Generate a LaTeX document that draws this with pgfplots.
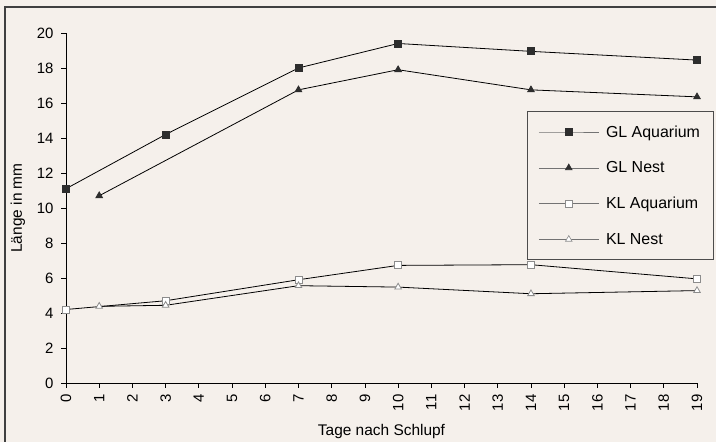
\documentclass[border=0pt]{standalone}
\usepackage{pgfplots}
\pgfplotsset{compat=1.18}
\usepackage{fontspec}
\setmainfont{Liberation Sans}
\definecolor{bg}{RGB}{245,240,235}
\definecolor{mk}{RGB}{45,45,45}
\begin{document}
\begin{tikzpicture}[x=1bp,y=1bp]
\fill[bg] (0,0) rectangle (716,442);
\useasboundingbox (0,0) rectangle (716,442);
\draw[black!75, line width=1.2bp] (5,0) -- (5,435) -- (716,435);
\begin{axis}[
  at={(66bp,59bp)}, anchor=south west,
  scale only axis, width=631bp, height=350bp,
  xmin=0, xmax=19, ymin=0, ymax=20,
  axis x line*=bottom, axis y line*=left,
  axis line style={-, black, line width=0.9bp},
  xtick={0,...,19}, ytick={0,2,...,20},
  tick align=outside, major tick length=5bp,
  tick style={black, line width=0.8bp},
  /pgf/number format/assume math mode=true,
  tick label style={font=\fontsize{15}{15}\selectfont},
  x tick label style={rotate=90, anchor=east},
  xticklabel shift=3bp,
  yticklabel shift=4bp,
  xlabel={Tage nach Schlupf},
  ylabel={Länge in mm},
  label style={font=\fontsize{15.5}{16}\selectfont},
  xlabel style={yshift=-6bp},
  ylabel style={yshift=5bp},
  legend image code/.code={\draw[#1, mark repeat=2, mark phase=2] plot coordinates {(0bp,0bp) (30bp,0bp) (60bp,0bp)};},
  legend style={at={(axis description cs:0.7306,0.777)}, anchor=north west,
    draw=black!70, line width=0.9bp, fill=bg,
    font=\fontsize{16}{17}\selectfont,
    row sep=19bp, inner xsep=11bp, inner ysep=12bp,
    /tikz/every odd column/.append style={column sep=5bp},
    /tikz/every even column/.append style={column sep=0bp}},
  legend cell align=left,
]
\addplot[black, line width=0.8bp, mark=square*, mark size=3.5bp, mark options={fill=mk, draw=mk}, forget plot]
  coordinates {(0,11.1) (3,14.2) (7,18.0) (10,19.4) (14,18.95) (19,18.45)};
\addplot[black, line width=0.8bp, mark=triangle*, mark size=3.8bp, mark options={fill=mk, draw=mk}, forget plot]
  coordinates {(1,10.7) (7,16.75) (10,17.9) (14,16.75) (19,16.35)};
\addplot[black, line width=0.8bp, mark=square*, mark size=3.5bp, mark options={fill=white, draw=black!45}, forget plot]
  coordinates {(0,4.2) (3,4.7) (7,5.9) (10,6.72) (14,6.76) (19,5.95)};
\addplot[black, line width=0.8bp, mark=triangle*, mark size=3.8bp, mark options={fill=white, draw=black!45}, forget plot]
  coordinates {(1,4.38) (3,4.44) (7,5.56) (10,5.48) (14,5.1) (19,5.28)};
\addlegendimage{black!55, line width=0.6bp, mark=square*, mark size=3.5bp, mark options={fill=mk, draw=mk}}
\addlegendentry{GL Aquarium}
\addlegendimage{black!55, line width=0.6bp, mark=triangle*, mark size=3.8bp, mark options={fill=mk, draw=mk}}
\addlegendentry{GL Nest}
\addlegendimage{black!55, line width=0.6bp, mark=square*, mark size=3.5bp, mark options={fill=white, draw=black!45}}
\addlegendentry{KL Aquarium}
\addlegendimage{black!55, line width=0.6bp, mark=triangle*, mark size=3.8bp, mark options={fill=white, draw=black!45}}
\addlegendentry{KL Nest}
\end{axis}
\end{tikzpicture}
\end{document}
